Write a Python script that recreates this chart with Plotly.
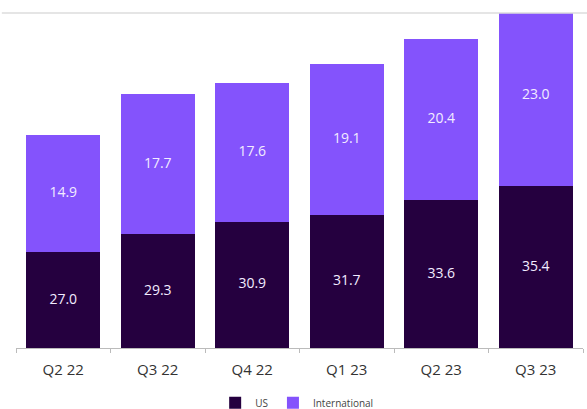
import plotly.graph_objects as go

categories = ["Q2 22", "Q3 22", "Q4 22", "Q1 23", "Q2 23", "Q3 23"]
us = [27.0, 29.3, 30.9, 31.7, 33.6, 35.4]
intl = [14.9, 17.7, 17.6, 19.1, 20.4, 23.0]

dark = "#25003F"
light = "#8453FC"
font = "Open Sans"
y_min, y_max = 14.9, 57.3

fig = go.Figure()
fig.add_trace(go.Bar(x=categories, y=us, name="US",
                     marker=dict(color=dark, line=dict(width=0)), hoverinfo="x+y"))
fig.add_trace(go.Bar(x=categories, y=intl, name="International",
                     marker=dict(color=light, line=dict(width=0)), hoverinfo="x+y"))

# value labels centred in the visible part of each segment
us_mid = [(y_min + u) / 2 for u in us]
intl_mid = [u + i / 2 for u, i in zip(us, intl)]
label_font = dict(color="#F2ECFF", size=14, family=font)
fig.add_trace(go.Scatter(x=categories, y=us_mid, mode="text", text=[f"{v:.1f}" for v in us],
                         textfont=label_font, showlegend=False, hoverinfo="skip", cliponaxis=False))
fig.add_trace(go.Scatter(x=categories, y=intl_mid, mode="text", text=[f"{v:.1f}" for v in intl],
                         textfont=label_font, showlegend=False, hoverinfo="skip", cliponaxis=False))

fig.update_layout(
    barmode="stack",
    bargap=0.22,
    width=587, height=409,
    margin=dict(l=16, r=4, t=13, b=61, autoexpand=False),
    plot_bgcolor="white", paper_bgcolor="white",
    font=dict(family=font, color="#333333"),
    showlegend=True,
    legend=dict(orientation="h", x=0.495, xanchor="center", yref="container", y=0.015, yanchor="middle",
                font=dict(size=10, color="#444444", family=font), itemwidth=30, traceorder="normal",
                tracegroupgap=0, bgcolor="rgba(0,0,0,0)"),
    xaxis=dict(
        type="category", showgrid=False, showline=True, linecolor="#BBBBBB", linewidth=1,
        ticks="outside", tickson="boundaries", ticklen=4, tickcolor="#BBBBBB",
        ticklabelstandoff=8,
        tickfont=dict(size=15, color="#333333", family=font),
    ),
    yaxis=dict(range=[y_min, y_max], visible=False, showgrid=False, zeroline=False),
    shapes=[dict(type="line", xref="paper", yref="paper", x0=-0.025, x1=1.01, y0=1, y1=1,
                 line=dict(color="#DDDDDD", width=1.5), layer="above")],
)

fig.write_html("out.html")
